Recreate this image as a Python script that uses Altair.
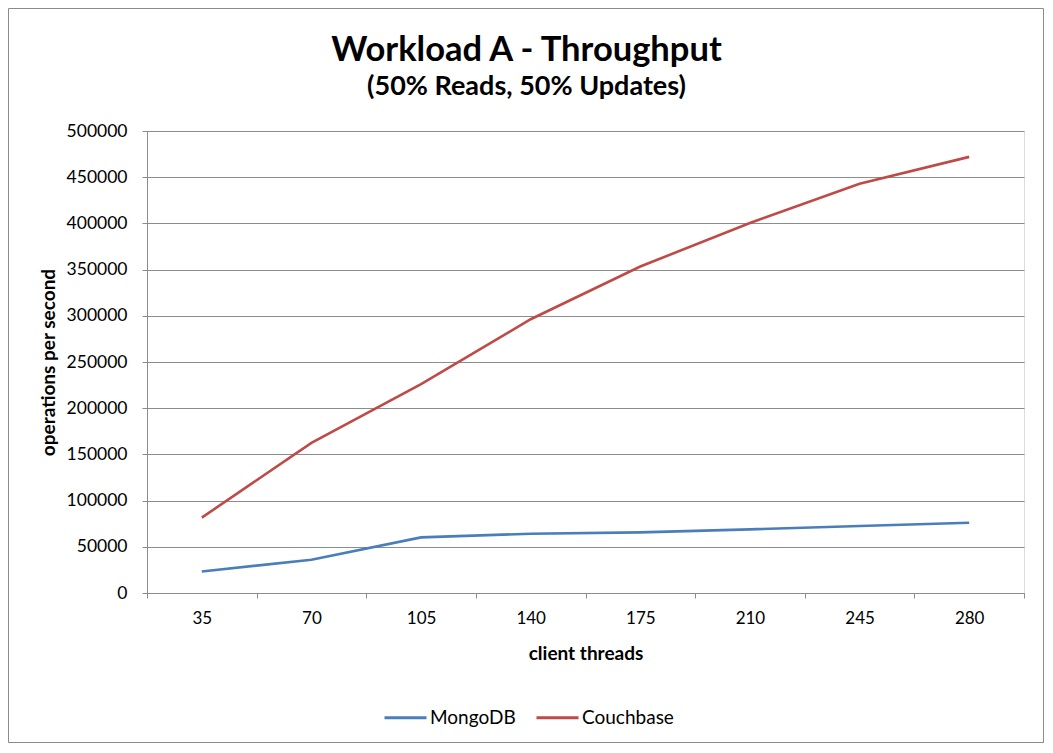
import altair as alt
import pandas as pd

threads = ["35", "70", "105", "140", "175", "210", "245", "280"]
mongodb = [23300, 36000, 60200, 64200, 65600, 68900, 72500, 76100]
couchbase = [81600, 162500, 226100, 296300, 353400, 400400, 443000, 472000]
series = ["MongoDB", "Couchbase"]
colors = ["#4A7EBB", "#BE4B48"]
y_ticks = list(range(0, 500001, 50000))

rows = []
for t, m, c in zip(threads, mongodb, couchbase):
    rows.append({"threads": t, "db": "MongoDB", "ops": m})
    rows.append({"threads": t, "db": "Couchbase", "ops": c})
df = pd.DataFrame(rows)

W, H = 877, 462
PL, PT, PR, PB = 139, 123, 20, 150
FONT = "Lato"
GRID = "#8c8c8c"

lines = alt.Chart(df).mark_line(strokeWidth=2.6).encode(
    x=alt.X(
        "threads:O",
        sort=threads,
        bandPosition=0.5,
        scale=alt.Scale(type="band", paddingInner=0, paddingOuter=0),
        axis=alt.Axis(
            title="client threads",
            tickBand="extent",
            labelAngle=0,
            grid=False,
            domainColor=GRID,
            tickColor=GRID,
            tickSize=5,
            labelPadding=12,
            labelFontSize=17,
            labelFont=FONT,
            labelColor="#000000",
            titleFont=FONT,
            titleFontSize=19,
            titleFontWeight="bold",
            titleColor="#000000",
            titlePadding=18,
        ),
    ),
    y=alt.Y(
        "ops:Q",
        scale=alt.Scale(domain=[0, 500000], nice=False),
        axis=alt.Axis(
            title="operations per second",
            values=y_ticks,
            format="d",
            grid=True,
            gridColor=GRID,
            gridWidth=1.2,
            domainColor=GRID,
            tickColor=GRID,
            tickSize=5,
            labelPadding=15,
            labelFontSize=17.5,
            labelFont=FONT,
            labelColor="#000000",
            titleFont=FONT,
            titleFontSize=19,
            titleFontWeight="bold",
            titleColor="#000000",
            titlePadding=8,
        ),
    ),
    color=alt.Color(
        "db:N",
        scale=alt.Scale(domain=series, range=colors),
        legend=alt.Legend(
            title=None,
            orient="none",
            direction="horizontal",
            legendX=236,
            legendY=564,
            symbolType="stroke",
            symbolSize=1764,
            symbolStrokeWidth=3,
            labelFont=FONT,
            labelFontSize=19,
            labelColor="#000000",
            labelOffset=2,
            columnPadding=14,
        ),
    ),
)

frame = alt.Chart(alt.Data(values=[{"a": 1}])).mark_rect(
    fillOpacity=0, stroke="#8c8c8c", strokeWidth=1
).encode(
    x=alt.value(-PL + 0.5),
    x2=alt.value(W + PR - 0.5),
    y=alt.value(-PT + 0.5),
    y2=alt.value(H + PB - 0.5),
)

chart = alt.layer(lines, frame).properties(
    width=W,
    height=H,
    autosize=alt.AutoSizeParams(type="none"),
    padding={"left": PL, "top": PT, "right": PR, "bottom": PB},
    title=alt.TitleParams(
        text="Workload A - Throughput",
        subtitle="(50% Reads, 50% Updates)",
        font=FONT,
        fontSize=34.5,
        fontWeight="bold",
        color="#000000",
        subtitleFont=FONT,
        subtitleFontSize=27,
        subtitleFontWeight="bold",
        subtitleColor="#000000",
        subtitlePadding=6,
        anchor="middle",
        dx=-59,
        offset=-93,
    ),
).configure_view(stroke=None).configure(background="white")

chart.save("out.html", embed_options={"renderer": "svg", "actions": False})
